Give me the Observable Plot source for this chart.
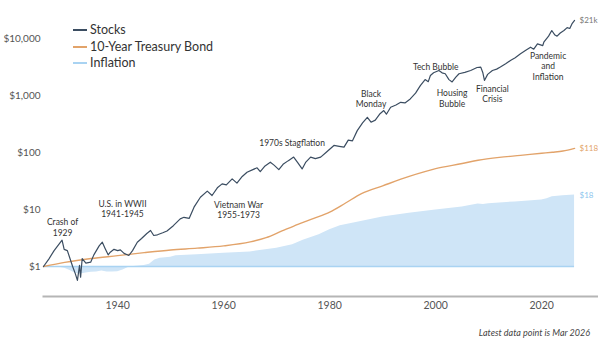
<!DOCTYPE html>
<html>
<head>
<meta charset="utf-8">
<script src="https://cdn.jsdelivr.net/npm/d3@7"></script>
<script src="https://cdn.jsdelivr.net/npm/@observablehq/plot@0.6"></script>
<style>
  html, body { margin: 0; padding: 0; background: #fff; }
  #wrap { position: relative; width: 598px; font-family: Lato, "Open Sans", sans-serif; }
  #legend { position: absolute; left: 73px; top: 22px; font-size: 12.5px; color: #333; line-height: 16.5px; }
  #legend .item { display: flex; align-items: center; }
  #legend .sw { width: 14px; height: 1.6px; margin-right: 3px; }
  #caption { text-align: right; padding-right: 8px; padding-top: 3px; font-size: 9px; font-style: italic; color: #444; height: 16px; line-height: 19px; }
</style>
</head>
<body>
<div id="wrap">
  <div id="chart"></div>
  <div id="legend"></div>
  <div id="caption">Latest data point is Mar 2026</div>
</div>
<script>
// ---- Data ----
const seriesNames = ["Stocks", "10-Year Treasury Bond", "Inflation"];
const seriesColors = ["#3b4d61", "#e2a36a", "#a9d3f2"];
const endLabels = ["$21k", "$118", "$18"];
const endLabelColors = ["#777777", "#e2a36a", "#8ec6ee"];

const stockYears = [1926,1927,1928,1929.5,1929.9,1930.5,1931.5,1932.0,1932.4,1932.8,1933.0,1933.3,1934.0,1934.9,1935.5,1936.5,1937.1,1937.6,1938.2,1938.6,1939.3,1940.0,1940.5,1941.2,1942.1,1942.8,1943.7,1944.5,1945.5,1946.2,1946.8,1947.5,1948.5,1949.3,1950.5,1951.8,1952.5,1953.5,1954.4,1955.6,1956.9,1957.8,1958.8,1959.7,1960.5,1961.6,1962.5,1963.5,1964.4,1965.5,1966.3,1966.9,1967.8,1968.8,1969.5,1970.4,1971.2,1972.2,1973.2,1974.0,1974.8,1975.5,1976.4,1977.3,1978.3,1979.3,1980.8,1981.8,1982.7,1983.5,1984.3,1985.2,1986.2,1987.1,1987.8,1988.6,1989.5,1990.2,1990.7,1991.5,1992.5,1993.4,1994.2,1995.2,1996.2,1997.1,1998.0,1998.6,1999.0,1999.6,2000.6,2001.2,2001.8,2002.5,2003.1,2003.8,2004.4,2005.5,2006.6,2007.8,2008.5,2008.9,2009.2,2009.8,2010.7,2011.5,2012.2,2013.2,2014.1,2015.0,2016.0,2017.0,2017.9,2018.5,2019.2,2020.2,2020.4,2021.3,2021.9,2022.5,2022.9,2023.5,2024.2,2024.8,2025.3,2025.7,2026.2];
const stockValues = [1.0,1.35,1.9,2.9,2.0,1.9,1.0,0.75,0.57,1.05,0.65,1.38,1.15,1.19,1.6,2.3,2.67,2.1,1.6,1.78,2.0,1.9,1.96,1.7,1.56,1.9,2.67,3.1,3.8,4.28,3.5,3.6,3.9,4.2,5.2,6.86,7.3,7.0,11.0,16.4,21.0,17.6,24,28.2,27,34.5,29,38,45,50,54,46,58,67.5,60,50,62,72,83,66,51.5,68,83,78,83,100,133,128,124,165,160,242,330,414,340,370,480,545,470,622,680,760,740,870,1100,1490,1900,1750,2240,2500,2750,2500,2410,1900,1730,2100,2410,2550,2750,3100,3150,2500,1840,2350,2750,2900,3150,3600,4110,4600,5380,6200,7040,6500,8030,7500,8600,11000,13800,11500,11000,12500,13800,15500,15000,18000,20800];

const bondYears = [1926,1930,1935,1940,1945,1950,1955,1960,1965,1968,1971,1974,1977,1980,1983,1986,1990,1995,2000,2005,2008,2012,2016,2020,2022,2024,2026.2];
const bondValues = [1,1.18,1.38,1.55,1.75,1.95,2.1,2.3,2.7,3.2,4.2,5.5,7,9,13,19,26,38,52,64,73,82,89,97,101,106,118];

const inflYears = [1926,1927,1928,1929,1930,1931,1932,1933,1934,1935,1936,1937,1938,1939,1940,1941,1942,1943,1944,1945,1946,1947,1948,1950,1951,1955,1960,1965,1970,1973,1975,1978,1980,1982,1985,1990,1995,2000,2005,2008,2009,2010,2015,2020,2021,2022,2024,2026.2];
const inflValues = [1,0.98,0.97,0.97,0.93,0.85,0.76,0.74,0.77,0.79,0.8,0.83,0.8,0.8,0.81,0.87,0.96,1.0,1.02,1.04,1.1,1.3,1.4,1.45,1.55,1.6,1.7,1.8,2.1,2.4,2.9,3.6,4.4,5.2,5.9,7.4,8.6,9.8,11.1,12.5,12.3,12.6,13.6,14.7,15.5,16.8,17.5,18];

const yTicks = [1, 10, 100, 1000, 10000];
const yTickLabels = ["$1", "$10", "$100", "$1,000", "$10,000"];
const xTicks = [1940, 1960, 1980, 2000, 2020];

const annoText = ["Crash of\n1929", "U.S. in WWII\n1941-1945", "Vietnam War\n1955-1973", "1970s Stagflation", "Black\nMonday", "Tech Bubble", "Housing\nBubble", "Financial\nCrisis", "Pandemic\nand\nInflation"];
const annoYear = [1929.6, 1940.9, 1962.8, 1972.9, 1987.8, 2000, 2003.1, 2010.7, 2021.2];
const annoValue = [4.9, 10.3, 10, 150, 890, 3250, 900, 1070, 3300];

// ---- Tables built from the arrays ----
const stocks = stockYears.map((y, i) => ({year: y, value: stockValues[i]}));
const bonds = bondYears.map((y, i) => ({year: y, value: bondValues[i]}));
const infl = inflYears.map((y, i) => ({year: y, value: inflValues[i]}));
const annos = annoText.map((t, i) => ({text: t, year: annoYear[i], value: annoValue[i]}));
const lastPoints = [stocks, bonds, infl].map((s, i) => ({...s[s.length - 1], label: endLabels[i], color: endLabelColors[i]}));

const W = 598, H = 320;
const pxPerDecade = 57, baseY = 266, axisY = 296;
const yMin = Math.pow(10, -(axisY - baseY) / pxPerDecade);
const yMax = Math.pow(10, baseY / pxPerDecade);
const xStart = 1926, pxPerYear = 5.3, left = 43;
const xEnd = xStart + (W - left) / pxPerYear;

const chart = Plot.plot({
  width: W,
  height: H,
  marginLeft: left,
  marginRight: 0,
  marginTop: 0,
  marginBottom: H - axisY,
  style: {fontFamily: "Lato, 'Open Sans', sans-serif", color: "#555", background: "#fff", overflow: "visible"},
  x: {domain: [xStart, xEnd]},
  y: {type: "log", domain: [yMin, yMax]},
  marks: [
    Plot.areaY(infl, {x: "year", y1: 1, y2: "value", fill: "#cfe5f7", curve: "linear"}),
    Plot.ruleY([1], {x1: inflYears[0], x2: inflYears[inflYears.length - 1], stroke: seriesColors[2], strokeWidth: 1.5}),
    Plot.line(bonds, {x: "year", y: "value", stroke: seriesColors[1], strokeWidth: 1.4, curve: "monotone-x"}),
    Plot.line(stocks, {x: "year", y: "value", stroke: seriesColors[0], strokeWidth: 1.2, curve: "linear"}),
    Plot.text(annos, {x: "year", y: "value", text: "text", fontSize: 8.5, fill: "#333", lineHeight: 1.22, lineAnchor: "middle"}),
    Plot.text(lastPoints, {x: "year", y: "value", text: "label", fill: "color", textAnchor: "start", dx: 5, fontSize: 8}),
    Plot.frame({anchor: "bottom", stroke: "#b5b5b5", strokeWidth: 2}),
    Plot.axisY({ticks: yTicks, tickFormat: (d) => yTickLabels[yTicks.indexOf(d)], tickSize: 0, tickPadding: 3, fontSize: 10, label: null}),
    Plot.axisX({ticks: xTicks, tickFormat: d => String(d), tickSize: 0, tickPadding: 5, fontSize: 10.5, label: null})
  ]
});
document.getElementById("chart").appendChild(chart);

const legend = document.getElementById("legend");
seriesNames.forEach((n, i) => {
  const d = document.createElement("div");
  d.className = "item";
  d.innerHTML = `<span class="sw" style="background:${seriesColors[i]}"></span><span>${n}</span>`;
  legend.appendChild(d);
});
</script>
</body>
</html>
